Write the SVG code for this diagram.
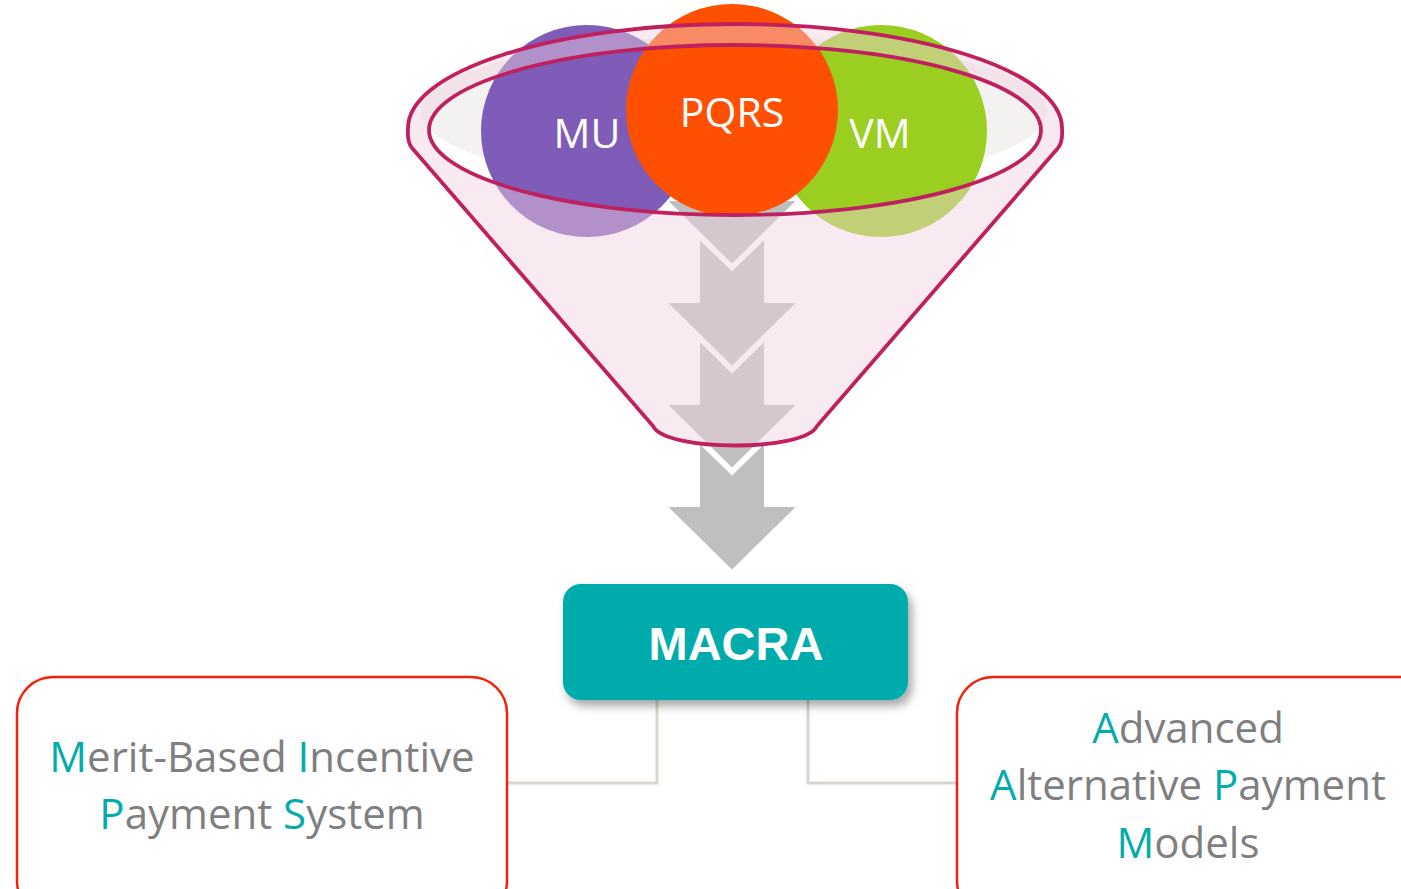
<svg xmlns="http://www.w3.org/2000/svg" width="1401" height="889" viewBox="0 0 1401 889">
<defs>
<style>
.lbl{font-family:"Open Sans","DejaVu Sans",sans-serif;fill:#fff;text-anchor:middle;font-size:41px}
.box{fill:#fff;stroke:#F2220C;stroke-width:2.5}
.bt{font-family:"Open Sans","DejaVu Sans",sans-serif;font-size:42px;fill:#7F7F7F;text-anchor:middle}
.hl{fill:#03ACAB}
.arrow{fill:#BFBFBF;stroke:#fff;stroke-width:2;stroke-linejoin:miter}
.conn{fill:none;stroke:#D9D4CE;stroke-width:3}
.rim{fill:none;stroke:#C0215E;stroke-width:3.8}
</style>
<filter id="sh" x="-20%" y="-30%" width="140%" height="170%">
<feDropShadow dx="4" dy="6" stdDeviation="5" flood-color="#000" flood-opacity="0.35"/>
</filter>
<polygon id="arr" class="arrow" points="699,0 732,32 765,0 765,64 798,64 732,129 666,64 699,64"/>
</defs>
<rect width="1401" height="889" fill="#fff"/>

<g id="connectors">
<polyline class="conn" points="657,700 657,783 508,783"/>
<polyline class="conn" points="808,700 808,783 957,783"/>
</g>

<g id="funnel-back">
<ellipse cx="734" cy="112" rx="313" ry="76" fill="#F3F2F1"/>
</g>

<g id="arrows">
<use href="#arr" y="136"/>
<use href="#arr" y="238"/>
<use href="#arr" y="340"/>
<use href="#arr" y="442"/>
</g>

<g id="node-mu">
<circle cx="587" cy="131" r="106" fill="#7E5CB8"/>
</g>
<g id="node-vm">
<circle cx="881" cy="131" r="106" fill="#9ACE20"/>
</g>
<g id="node-pqrs">
<circle cx="732" cy="110" r="106" fill="#FE5000"/>
</g>

<g id="funnel">
<path fill="#F2D0E0" fill-opacity="0.45" fill-rule="evenodd" d="M412,148 Q407,142 408,128 A327,104 0 0 1 1062,128 Q1063,142 1058,148 L817,426 C805,452 665,452 653,426 Z M429,130 A306,85 0 1 0 1041,130 A306,85 0 1 0 429,130 Z"/>
<path class="rim" d="M412,148 Q407,142 408,128 A327,104 0 0 1 1062,128 Q1063,142 1058,148 L817,426 C805,452 665,452 653,426 Z"/>
<ellipse class="rim" cx="735" cy="130" rx="306" ry="85"/>
</g>

<g id="labels">
<text class="lbl" x="587" y="148">MU</text>
<text class="lbl" x="732" y="127">PQRS</text>
<text class="lbl" x="880" y="148">VM</text>
</g>

<g id="node-macra">
<rect x="563" y="584" width="345" height="116" rx="18" fill="#03ACAB" filter="url(#sh)"/>
<text x="736" y="660" font-family="'Liberation Sans',Arial,sans-serif" font-weight="bold" font-size="47" fill="#fff" text-anchor="middle">MACRA</text>
</g>

<g id="node-mips">
<rect class="box" x="17" y="677" width="490" height="240" rx="36"/>
<text class="bt" x="262" y="772"><tspan class="hl">M</tspan>erit-Based <tspan class="hl">I</tspan>ncentive</text>
<text class="bt" x="262" y="829"><tspan class="hl">P</tspan>ayment <tspan class="hl">S</tspan>ystem</text>
</g>

<g id="node-apm">
<rect class="box" x="957" y="677" width="480" height="240" rx="36"/>
<text class="bt" x="1188" y="743"><tspan class="hl">A</tspan>dvanced</text>
<text class="bt" x="1188" y="800"><tspan class="hl">A</tspan>lternative <tspan class="hl">P</tspan>ayment</text>
<text class="bt" x="1188" y="858"><tspan class="hl">M</tspan>odels</text>
</g>
</svg>
